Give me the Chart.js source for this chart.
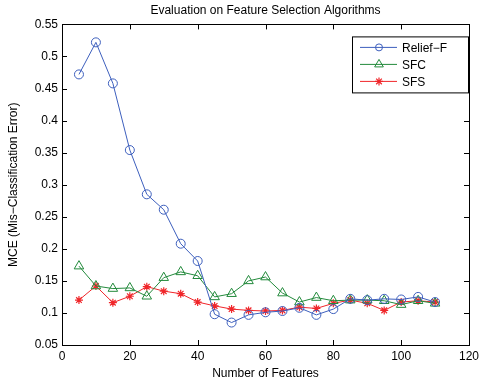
<!DOCTYPE html>
<html>
<head>
<meta charset="utf-8">
<script src="https://cdn.jsdelivr.net/npm/chart.js@4"></script>
<style>
  html, body { margin: 0; padding: 0; background: #fff; }
  #wrap { width: 487px; height: 383px; }
</style>
</head>
<body>
<div id="wrap"><canvas id="mceChart"></canvas></div>
<script>
// --- data ---
const features = [5, 10, 15, 20, 25, 30, 35, 40, 45, 50, 55, 60, 65, 70, 75, 80, 85, 90, 95, 100, 105, 110];
const reliefF = [0.472, 0.522, 0.458, 0.354, 0.285, 0.261, 0.208, 0.181, 0.098, 0.085, 0.097, 0.101, 0.103, 0.108, 0.097, 0.106, 0.122, 0.120, 0.122, 0.121, 0.125, 0.117];
const sfc = [0.173, 0.142, 0.138, 0.139, 0.126, 0.155, 0.164, 0.158, 0.125, 0.130, 0.150, 0.156, 0.131, 0.117, 0.124, 0.119, 0.120, 0.120, 0.119, 0.113, 0.119, 0.115];
const sfs = [0.120, 0.142, 0.116, 0.126, 0.141, 0.134, 0.130, 0.117, 0.111, 0.106, 0.104, 0.103, 0.104, 0.109, 0.107, 0.115, 0.120, 0.115, 0.104, 0.117, 0.119, 0.117];
const seriesNames = ['Relief\u2212F', 'SFC', 'SFS'];
const xTicks = [0, 20, 40, 60, 80, 100, 120];

const FONT = 'Liberation Sans, Arial, sans-serif';

function toPoints(ys) {
    return ys.map((y, i) => ({ x: features[i], y: y }));
}

// inward ticks on all four sides + full box, like MATLAB axes
const boxTicks = {
    id: 'boxTicks',
    afterDatasetsDraw(chart) {
        const ctx = chart.ctx, a = chart.chartArea;
        const xs = chart.scales.x, ys = chart.scales.y;
        const len = 5;
        ctx.save();
        ctx.strokeStyle = '#000';
        ctx.lineWidth = 1;
        ctx.beginPath();
        xs.ticks.forEach(t => {
            const px = Math.round(xs.getPixelForValue(t.value)) + 0.5;
            ctx.moveTo(px, a.bottom); ctx.lineTo(px, a.bottom - len);
            ctx.moveTo(px, a.top); ctx.lineTo(px, a.top + len);
        });
        ys.ticks.forEach(t => {
            const py = Math.round(ys.getPixelForValue(t.value)) + 0.5;
            ctx.moveTo(a.left, py); ctx.lineTo(a.left + len, py);
            ctx.moveTo(a.right, py); ctx.lineTo(a.right - len, py);
        });
        ctx.stroke();
        ctx.strokeRect(Math.round(a.left) + 0.5, Math.round(a.top) + 0.5,
            Math.round(a.right - a.left), Math.round(a.bottom - a.top));
        ctx.restore();
    }
};

// boxed legend in the top-right corner
const boxLegend = {
    id: 'boxLegend',
    afterDraw(chart) {
        const ctx = chart.ctx, a = chart.chartArea;
        const w = 116, h = 56;
        const x0 = a.right - w - 1, y0 = a.top + 12;
        ctx.save();
        ctx.fillStyle = '#fff';
        ctx.fillRect(x0, y0, w, h);
        ctx.strokeStyle = '#000';
        ctx.lineWidth = 1;
        ctx.strokeRect(x0 + 0.5, y0 + 0.5, w, h);
        ctx.font = '12px ' + FONT;
        ctx.textBaseline = 'middle';
        chart.data.datasets.forEach((ds, i) => {
            const cy = y0 + 11 + i * 17;
            ctx.strokeStyle = ds.borderColor;
            ctx.lineWidth = 1;
            ctx.beginPath();
            ctx.moveTo(x0 + 8, cy); ctx.lineTo(x0 + 45, cy);
            ctx.stroke();
            ctx.fillStyle = 'rgba(0,0,0,0)';
            ctx.lineWidth = ds.pointBorderWidth;
            Chart.helpers.drawPoint(ctx, {
                pointStyle: ds.pointStyle,
                radius: ds.legendRadius,
                borderWidth: ds.pointBorderWidth
            }, x0 + 27, cy);
            ctx.fillStyle = '#000';
            ctx.fillText(ds.label, x0 + 50, cy + 1);
        });
        ctx.restore();
    }
};

const ctxMce = document.getElementById('mceChart');
new Chart(ctxMce, {
    type: 'line',
    data: {
        datasets: [
            {
                label: seriesNames[0],
                data: toPoints(reliefF),
                borderColor: '#3d5fbd',
                backgroundColor: 'rgba(0,0,0,0)',
                borderWidth: 1,
                pointStyle: 'circle',
                pointRadius: 4.5,
                legendRadius: 3.5,
                pointBorderWidth: 1,
                tension: 0
            },
            {
                label: seriesNames[1],
                data: toPoints(sfc),
                borderColor: '#238a3c',
                backgroundColor: 'rgba(0,0,0,0)',
                borderWidth: 1,
                pointStyle: 'triangle',
                pointRadius: 5.5,
                legendRadius: 5,
                pointBorderWidth: 1,
                tension: 0
            },
            {
                label: seriesNames[2],
                data: toPoints(sfs),
                borderColor: '#f0262a',
                backgroundColor: 'rgba(0,0,0,0)',
                borderWidth: 1,
                pointStyle: 'star',
                pointRadius: 4,
                legendRadius: 4,
                pointBorderWidth: 1.2,
                tension: 0
            }
        ]
    },
    options: {
        responsive: true,
        maintainAspectRatio: false,
        animation: false,
        layout: { padding: { top: 0, right: 18, left: 0, bottom: 0 } },
        plugins: {
            legend: { display: false },
            tooltip: { enabled: false },
            title: {
                display: true,
                fullSize: false,
                text: 'Evaluation on Feature Selection Algorithms',
                color: '#000',
                font: { family: FONT, size: 12, weight: 'normal' },
                padding: { top: 3, bottom: 7 }
            }
        },
        scales: {
            x: {
                type: 'linear',
                min: 0, max: 120,
                afterBuildTicks: scale => { scale.ticks = xTicks.map(v => ({ value: v })); },
                afterFit: scale => { scale.height = 38; },
                grid: { display: false, drawTicks: false },
                border: { display: true, color: '#000' },
                ticks: { color: '#000', padding: 4, font: { family: FONT, size: 12 } },
                title: {
                    display: true,
                    text: 'Number of Features',
                    color: '#000',
                    font: { family: FONT, size: 12 },
                    padding: { top: 0, bottom: 2 }
                }
            },
            y: {
                min: 0.05, max: 0.55,
                afterFit: scale => { scale.width = 62; },
                grid: { display: false, drawTicks: false },
                border: { display: true, color: '#000' },
                ticks: {
                    stepSize: 0.05,
                    color: '#000',
                    padding: 4,
                    font: { family: FONT, size: 12 },
                    callback: v => String(Number(v.toFixed(2)))
                },
                title: {
                    display: true,
                    text: 'MCE (Mis\u2212Classification Error)',
                    color: '#000',
                    font: { family: FONT, size: 12 },
                    padding: { top: 6, bottom: 0 }
                }
            }
        }
    },
    plugins: [boxTicks, boxLegend]
});
</script>
</body>
</html>
